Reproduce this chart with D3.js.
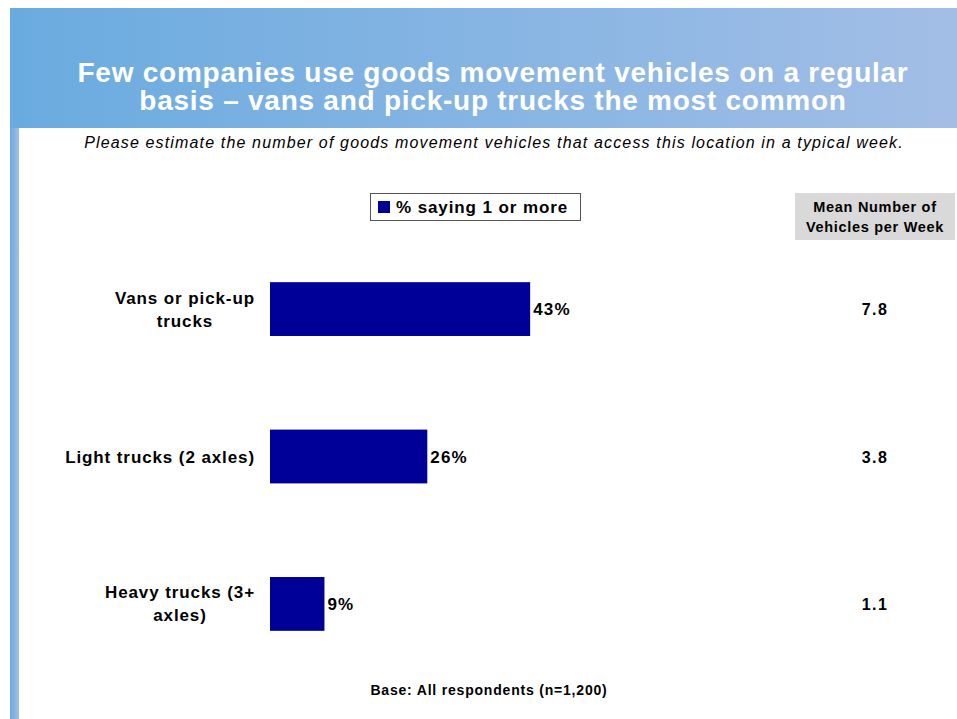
<!DOCTYPE html>
<html>
<head>
<meta charset="utf-8">
<script src="https://cdn.jsdelivr.net/npm/d3@7"></script>
<style>
  html, body { margin: 0; padding: 0; background: #ffffff; }
  svg { display: block; font-family: "Liberation Sans", Arial, sans-serif; }
</style>
</head>
<body>
<svg id="chart" width="957" height="719"></svg>
<script>
// Survey results: share of locations with at least one vehicle of each type per week
const categories = [["Vans or pick-up", "trucks"], ["Light trucks (2 axles)"], ["Heavy trucks (3+", "axles)"]];
const categoryKeys = ["Vans or pick-up trucks", "Light trucks (2 axles)", "Heavy trucks (3+ axles)"];
const pctValues = [43, 26, 9];
const meanValues = [7.8, 3.8, 1.1];
const seriesName = "% saying 1 or more";
const titleLines = ["Few companies use goods movement vehicles on a regular", "basis \u2013 vans and pick-up trucks the most common"];
const subtitle = "Please estimate the number of goods movement vehicles that access this location in a typical week.";
const meanHeader = ["Mean Number of", "Vehicles per Week"];
const baseNote = "Base: All respondents (n=1,200)";

const svg = d3.select("#chart");
const W = 957, H = 719;

// Gradients for the header band and the left stripe
const defs = svg.append("defs");
const g1 = defs.append("linearGradient").attr("id", "band").attr("x1", "0").attr("x2", "1").attr("y1", "0").attr("y2", "0");
g1.append("stop").attr("offset", "0").attr("stop-color", "#6aabdf");
g1.append("stop").attr("offset", "1").attr("stop-color", "#a2bee6");
const g2 = defs.append("linearGradient").attr("id", "stripe").attr("x1", "0").attr("x2", "1").attr("y1", "0").attr("y2", "0");
g2.append("stop").attr("offset", "0").attr("stop-color", "#6aabdf");
g2.append("stop").attr("offset", "1").attr("stop-color", "#a2bee6");

svg.append("rect").attr("x", 0).attr("y", 0).attr("width", W).attr("height", H).attr("fill", "#ffffff");
svg.append("rect").attr("x", 10).attr("y", 8).attr("width", W - 10).attr("height", 120).attr("fill", "url(#band)");
svg.append("rect").attr("x", 10).attr("y", 128).attr("width", 9).attr("height", H - 128).attr("fill", "url(#stripe)");

// Title
svg.append("g").selectAll("text").data(titleLines).join("text")
  .attr("x", 493).attr("y", (d, i) => 82 + i * 28)
  .attr("text-anchor", "middle")
  .attr("fill", "#ffffff").attr("font-weight", "bold").attr("font-size", 28)
  .attr("letter-spacing", 0.75)
  .text(d => d);

// Subtitle
svg.append("text")
  .attr("x", 494).attr("y", 148)
  .attr("text-anchor", "middle")
  .attr("font-style", "italic").attr("font-size", 16).attr("fill", "#000")
  .attr("letter-spacing", 1.15)
  .text(subtitle);

// Scales
const x = d3.scaleLinear().domain([0, 100]).range([270, 875]);
const y = d3.scaleBand().domain(categoryKeys).range([235, 678]).paddingInner(0.635).paddingOuter(0.32);

// Bars
svg.append("g").selectAll("rect").data(pctValues).join("rect")
  .attr("x", x(0))
  .attr("y", (d, i) => y(categoryKeys[i]))
  .attr("width", d => x(d) - x(0))
  .attr("height", y.bandwidth())
  .attr("fill", "#000099");

// Value labels
svg.append("g").selectAll("text").data(pctValues).join("text")
  .attr("x", d => x(d) + 3)
  .attr("y", (d, i) => y(categoryKeys[i]) + y.bandwidth() / 2 + 6)
  .attr("font-weight", "bold").attr("font-size", 17).attr("fill", "#000")
  .attr("letter-spacing", 1.2)
  .text(d => d + "%");

// Category labels: lines centred on each block, blocks right-aligned to the axis
const catG = svg.append("g");
categories.forEach((lines, i) => {
  const cy = y(categoryKeys[i]) + y.bandwidth() / 2;
  const t = catG.append("text")
    .attr("font-weight", "bold").attr("font-size", 17).attr("fill", "#000")
    .attr("letter-spacing", 0.9)
    .attr("text-anchor", "middle");
  const n = lines.length;
  lines.forEach((ln, j) => {
    t.append("tspan").attr("y", cy + 6 + (j - (n - 1) / 2) * 23).text(ln);
  });
  const widths = [];
  t.selectAll("tspan").each(function () { widths.push(this.getComputedTextLength()); });
  const maxW = d3.max(widths);
  t.selectAll("tspan").attr("x", 255 - maxW / 2);
});

// Mean values column
svg.append("rect").attr("x", 795).attr("y", 193).attr("width", 160).attr("height", 47).attr("fill", "#d9d9d9");
svg.append("g").selectAll("text").data(meanHeader).join("text")
  .attr("x", 875).attr("y", (d, i) => 212 + i * 20)
  .attr("text-anchor", "middle")
  .attr("font-weight", "bold").attr("font-size", 14.5).attr("fill", "#000")
  .attr("letter-spacing", 0.7)
  .text(d => d);
svg.append("g").selectAll("text").data(meanValues).join("text")
  .attr("x", 875)
  .attr("y", (d, i) => y(categoryKeys[i]) + y.bandwidth() / 2 + 6)
  .attr("text-anchor", "middle")
  .attr("font-weight", "bold").attr("font-size", 16).attr("fill", "#000")
  .attr("letter-spacing", 1.5)
  .text(d => d.toFixed(1));

// Legend
const leg = svg.append("g");
leg.append("rect").attr("x", 370.5).attr("y", 193.5).attr("width", 210).attr("height", 27)
  .attr("fill", "#fff").attr("stroke", "#555").attr("stroke-width", 1);
leg.append("rect").attr("x", 378).attr("y", 201).attr("width", 12).attr("height", 12).attr("fill", "#000099");
leg.append("text").attr("x", 396).attr("y", 213)
  .attr("font-weight", "bold").attr("font-size", 17).attr("fill", "#000")
  .attr("letter-spacing", 0.9)
  .text(seriesName);

// Base note
svg.append("text").attr("x", 489).attr("y", 695)
  .attr("text-anchor", "middle")
  .attr("font-weight", "bold").attr("font-size", 14).attr("fill", "#000")
  .attr("letter-spacing", 0.8)
  .text(baseNote);
</script>
</body>
</html>
